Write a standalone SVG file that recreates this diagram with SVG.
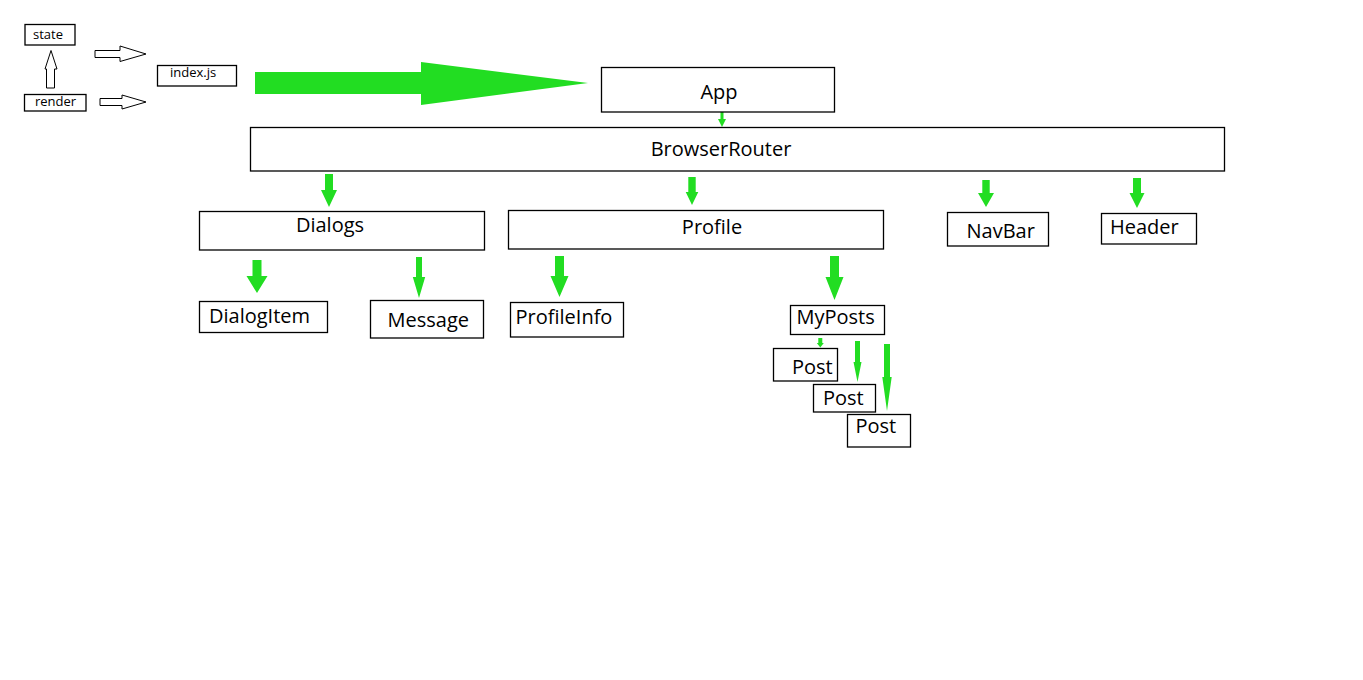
<svg xmlns="http://www.w3.org/2000/svg" width="1363" height="680" viewBox="0 0 1363 680">
<style>
.box{fill:#fff;stroke:#000;stroke-width:1.3}
.t{font-family:"Open Sans","Liberation Sans",sans-serif;font-size:20px;fill:#000}
.s{font-family:"Open Sans","Liberation Sans",sans-serif;font-size:13px;fill:#000}
.g{fill:#22dd22;stroke:none}
.h{fill:#fff;stroke:#000;stroke-width:1}
</style>
<rect width="1363" height="680" fill="#fff"/>
<g id="connectors">
<polygon class="h" points="95,50.5 120,50.5 120,46 146,54 120,61.5 120,57.5 95,57.5"/>
<polygon class="h" points="100,98.5 122,98.5 122,95 146,102 122,109 122,105.5 100,105.5"/>
<polygon class="h" points="46.5,88 54.5,88 54.5,69 57,69 51,50.5 45,69 46.5,69"/>
<polygon class="g" points="255,72 421,72 421,62 588,83 421,105 421,94 255,94"/>
<polygon class="g" points="720.5,112 723.5,112 723.5,119 726,119 722,127 718,119 720.5,119"/>
<polygon class="g" points="325,174 333,174 333,190 337,190 329,207 321,190 325,190"/>
<polygon class="g" points="688.3,177 695.7,177 695.7,192 698.3,192 692,205 685.7,192 688.3,192"/>
<polygon class="g" points="982.3,180 989.7,180 989.7,193 994,193 986,207 978,193 982.3,193"/>
<polygon class="g" points="1133,178 1141,178 1141,193 1144.5,193 1137,208 1129.5,193 1133,193"/>
<polygon class="g" points="252.5,260 261.5,260 261.5,276 267.5,276 257,293 246.5,276 252.5,276"/>
<polygon class="g" points="416,257 422,257 422,277 425.2,277 419,298 412.8,277 416,277"/>
<polygon class="g" points="555,256 564,256 564,276 568.5,276 559.5,297 550.5,276 555,276"/>
<polygon class="g" points="830,256 839,256 839,277 843.5,277 834.5,300 825.5,277 830,277"/>
<polygon class="g" points="818.3,338 822.3,338 822.3,343 823.8,343 820.3,347.5 816.8,343 818.3,343"/>
<polygon class="g" points="855,341 860,341 860,362 861.5,362 857.5,382 853.5,362 855,362"/>
<polygon class="g" points="884,344 890,344 890,377 891.7,377 887,411 882.3,377 884,377"/>
</g>
<g id="state"><rect class="box" x="25" y="24.5" width="50" height="20.5"/><text class="s" x="33" y="38.5">state</text></g>
<g id="render"><rect class="box" x="24.5" y="94.5" width="61.5" height="16.5"/><text class="s" x="35" y="106">render</text></g>
<g id="index"><rect class="box" x="157.5" y="65.5" width="79" height="20.5"/><text class="s" x="170" y="76.5">index.js</text></g>
<g id="app"><rect class="box" x="601.5" y="67.5" width="233" height="44.5"/><text class="t" x="719" y="99" text-anchor="middle">App</text></g>
<g id="browserrouter"><rect class="box" x="250.5" y="127.5" width="974" height="43.5"/><text class="t" x="721" y="156" text-anchor="middle">BrowserRouter</text></g>
<g id="dialogs"><rect class="box" x="199.5" y="211.5" width="285" height="38.5"/><text class="t" x="330" y="232" text-anchor="middle">Dialogs</text></g>
<g id="profile"><rect class="box" x="508.5" y="210.5" width="375" height="38.5"/><text class="t" x="712" y="233.5" text-anchor="middle">Profile</text></g>
<g id="navbar"><rect class="box" x="947.5" y="212.5" width="101" height="33.5"/><text class="t" x="966.5" y="237.5">NavBar</text></g>
<g id="header"><rect class="box" x="1101.5" y="213.5" width="95" height="30.5"/><text class="t" x="1110" y="233.5">Header</text></g>
<g id="dialogitem"><rect class="box" x="199.5" y="301.5" width="128" height="31"/><text class="t" x="209" y="323">DialogItem</text></g>
<g id="message"><rect class="box" x="370.5" y="300.5" width="113" height="37.5"/><text class="t" x="387.5" y="327">Message</text></g>
<g id="profileinfo"><rect class="box" x="510.5" y="302.5" width="113" height="34.5"/><text class="t" x="515.5" y="323.5">ProfileInfo</text></g>
<g id="myposts"><rect class="box" x="790.5" y="305.5" width="94" height="29"/><text class="t" x="796.5" y="323.5">MyPosts</text></g>
<g id="post1"><rect class="box" x="773.5" y="348.5" width="64" height="32.5"/><text class="t" x="792" y="373.5">Post</text></g>
<g id="post2"><rect class="box" x="813.5" y="384.5" width="62" height="27.5"/><text class="t" x="823" y="405">Post</text></g>
<g id="post3"><rect class="box" x="847.5" y="414.5" width="63" height="32.5"/><text class="t" x="855.5" y="433">Post</text></g>
</svg>
